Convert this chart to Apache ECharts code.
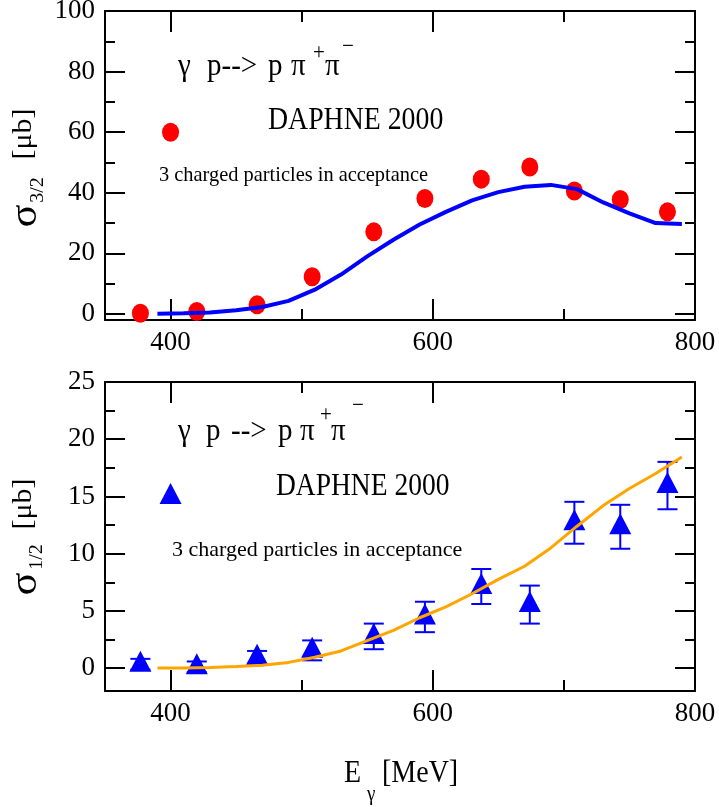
<!DOCTYPE html>
<html><head><meta charset="utf-8">
<script src="https://cdn.jsdelivr.net/npm/echarts@6/dist/echarts.min.js"></script>
<style>html,body{margin:0;padding:0;background:#fff}#c{width:719px;height:807px}</style>
</head><body><div id="c"></div>
<script>
// ---- data ----
const energy = [377, 420, 466, 508, 555, 594, 637, 674, 708, 743, 779];
const sigma32 = [0.2, 0.8, 3.0, 12.3, 27.1, 38.1, 44.5, 48.5, 40.6, 37.8, 33.7];
const theoryE = [390, 410, 430, 450, 470, 490, 510, 530, 550, 570, 590, 610, 630, 650, 670, 690, 710, 730, 750, 770, 790];
const theory32 = [0.1, 0.2, 0.5, 1.2, 2.3, 4.3, 8.0, 13.0, 19.0, 24.5, 29.5, 33.7, 37.5, 40.2, 42.0, 42.6, 41.2, 36.8, 33.2, 30.0, 29.7];
const sigma12 = [0.34, 0.11, 0.95, 1.55, 2.77, 4.47, 7.13, 5.55, 12.7, 12.35, 15.95];
const sigma12Err = [0.47, 0.47, 0.55, 0.87, 1.12, 1.33, 1.53, 1.66, 1.83, 1.92, 2.07];
const theory12 = [0.0, 0.02, 0.06, 0.14, 0.25, 0.5, 0.95, 1.5, 2.4, 3.3, 4.4, 5.35, 6.5, 7.75, 8.9, 10.5, 12.4, 14.2, 15.7, 17.0, 18.45];
const legendTop = [[400, 60]];
const legendBot = [[400, 15]];
const xMajor = [400, 600, 800];
const xMinor = [500, 700];
const yTopMajor = [0, 20, 40, 60, 80, 100];
const yTopMinor = [10, 30, 50, 70, 90];
const yBotMajor = [0, 5, 10, 15, 20, 25];
const yBotMinor = [2.5, 7.5, 12.5, 17.5, 22.5];

const SERIF = 'Liberation Serif';
const BLK = '#000';

function xAx(grid, pos, ticks, len, labels, line) {
  return {
    type: 'value', gridIndex: grid, position: pos, min: 350, max: 800,
    axisLine: {show: line, onZero: false, lineStyle: {color: BLK, width: 2}},
    axisTick: {show: true, inside: true, length: len, customValues: ticks, lineStyle: {color: BLK, width: 2}},
    axisLabel: labels ? {show: true, customValues: labels, margin: 9, fontSize: 27, fontFamily: SERIF, color: BLK} : {show: false},
    splitLine: {show: false}
  };
}
function yAx(grid, pos, min, max, ticks, len, labels, line) {
  return {
    type: 'value', gridIndex: grid, position: pos, min: min, max: max,
    axisLine: {show: line, onZero: false, lineStyle: {color: BLK, width: 2}},
    axisTick: {show: true, inside: true, length: len, customValues: ticks, lineStyle: {color: BLK, width: 2}},
    axisLabel: labels ? {show: true, customValues: labels, margin: 10, fontSize: 27, fontFamily: SERIF, color: BLK} : {show: false},
    splitLine: {show: false}
  };
}

const xAxes = [
  xAx(0, 'bottom', xMajor, 21, xMajor, true),
  xAx(0, 'bottom', xMinor, 11, null, false),
  xAx(0, 'top', xMajor, 21, null, true),
  xAx(0, 'top', xMinor, 11, null, false),
  xAx(1, 'bottom', xMajor, 21, xMajor, true),
  xAx(1, 'bottom', xMinor, 11, null, false),
  xAx(1, 'top', xMajor, 21, null, true),
  xAx(1, 'top', xMinor, 11, null, false)
];
const yAxes = [
  yAx(0, 'left', -2, 100, yTopMajor, 20, yTopMajor, true),
  yAx(0, 'left', -2, 100, yTopMinor, 10, null, false),
  yAx(0, 'right', -2, 100, yTopMajor, 20, null, true),
  yAx(0, 'right', -2, 100, yTopMinor, 10, null, false),
  yAx(1, 'left', -2, 25, yBotMajor, 20, yBotMajor, true),
  yAx(1, 'left', -2, 25, yBotMinor, 10, null, false),
  yAx(1, 'right', -2, 25, yBotMajor, 20, null, true),
  yAx(1, 'right', -2, 25, yBotMinor, 10, null, false)
];

function txt(x, y, s, size, opts) {
  opts = opts || {};
  return {
    type: 'text', x: x, y: y, rotation: opts.rot || 0,
    scaleX: opts.sx || 1, scaleY: opts.sy || 1, z: 100,
    style: {text: s, fontSize: size, fontFamily: SERIF, fill: BLK,
      align: opts.align || 'left', verticalAlign: 'middle'}
  };
}
const SY = 1.11;
const graphics = [
  // top formula
  txt(178, 67, 'γ', 29, {sy: SY}),
  txt(207, 67, 'p-->', 29, {sy: SY}),
  txt(268, 67, 'p', 29, {sy: SY}),
  txt(291, 67, 'π', 29, {sy: SY}),
  txt(313, 53, '+', 21, {sy: SY}),
  txt(325, 67, 'π', 29, {sy: SY}),
  txt(342, 47, '−', 21, {sy: SY}),
  txt(268, 121, 'DAPHNE 2000', 27.8, {sy: SY}),
  txt(159, 176, '3 charged particles in acceptance', 20.4, {sy: 1}),
  // bottom formula
  txt(178, 432, 'γ', 29, {sy: SY}),
  txt(206, 432, 'p', 29, {sy: SY}),
  txt(231, 432, '-->', 29, {sy: SY}),
  txt(278, 432, 'p', 29, {sy: SY}),
  txt(300, 432, 'π', 29, {sy: SY}),
  txt(320, 415, '+', 21, {sy: SY}),
  txt(331, 432, 'π', 29, {sy: SY}),
  txt(352, 406, '−', 21, {sy: SY}),
  txt(276, 487, 'DAPHNE 2000', 27.5, {sy: SY}),
  txt(172, 550, '3 charged particles in acceptance', 22, {sy: 1}),
  // y titles
  txt(26, 216, 'σ', 38, {rot: Math.PI / 2, sx: SY, align: 'center'}),
  txt(38, 190, '3/2', 18, {rot: Math.PI / 2, sx: SY, align: 'center'}),
  txt(24, 134, '[μb]', 27, {rot: Math.PI / 2, sx: SY, align: 'center'}),
  txt(26, 584, 'σ', 38, {rot: Math.PI / 2, sx: SY, align: 'center'}),
  txt(37, 557, '1/2', 18, {rot: Math.PI / 2, sx: SY, align: 'center'}),
  txt(24, 504, '[μb]', 27, {rot: Math.PI / 2, sx: SY, align: 'center'}),
  // x title
  txt(344, 774, 'E', 28, {sy: SY}),
  txt(367, 794, 'γ', 19, {sy: SY}),
  txt(382, 774, '[MeV]', 28, {sy: SY})
];

const chart = echarts.init(document.getElementById('c'), null, {renderer: 'canvas'});
chart.setOption({
  backgroundColor: '#fff',
  animation: false,
  textStyle: {fontFamily: SERIF},
  grid: [
    {left: 105, top: 11, width: 590, height: 309, containLabel: false, outerBoundsMode: 'none'},
    {left: 105, top: 382, width: 590, height: 309, containLabel: false, outerBoundsMode: 'none'}
  ],
  xAxis: xAxes,
  yAxis: yAxes,
  graphic: graphics,
  series: [
    {type: 'scatter', xAxisIndex: 0, yAxisIndex: 0, symbol: 'circle', symbolSize: [17, 19],
      itemStyle: {color: '#ff0000', opacity: 1}, z: 2, data: energy.map((e, i) => [e, sigma32[i]])},
    {type: 'scatter', xAxisIndex: 0, yAxisIndex: 0, symbol: 'circle', symbolSize: [17, 19],
      itemStyle: {color: '#ff0000', opacity: 1}, z: 2, data: legendTop},
    {type: 'line', xAxisIndex: 0, yAxisIndex: 0, showSymbol: false, symbol: 'none',
      lineStyle: {color: '#0000ff', width: 4}, z: 3, data: theoryE.map((e, i) => [e, theory32[i]])},
    {type: 'custom', xAxisIndex: 4, yAxisIndex: 4, z: 2,
      encode: {x: 0, y: 1},
      renderItem: function (params, api) {
        const x = api.value(0), y = api.value(1), er = api.value(2);
        const t = api.coord([x, y + er]);
        const b = api.coord([x, y - er]);
        const hw = 10;
        const st = {stroke: '#0000ff', lineWidth: 2};
        return {type: 'group', children: [
          {type: 'line', shape: {x1: t[0], y1: t[1], x2: b[0], y2: b[1]}, style: st},
          {type: 'line', shape: {x1: t[0] - hw, y1: t[1], x2: t[0] + hw, y2: t[1]}, style: st},
          {type: 'line', shape: {x1: b[0] - hw, y1: b[1], x2: b[0] + hw, y2: b[1]}, style: st}
        ]};
      },
      data: energy.map((e, i) => [e, sigma12[i], sigma12Err[i]])},
    {type: 'scatter', xAxisIndex: 4, yAxisIndex: 4, symbol: 'triangle', symbolSize: [22, 21], symbolOffset: [0, -3],
      itemStyle: {color: '#0000ff', opacity: 1}, z: 2, data: energy.map((e, i) => [e, sigma12[i]])},
    {type: 'scatter', xAxisIndex: 4, yAxisIndex: 4, symbol: 'triangle', symbolSize: [22, 21], symbolOffset: [0, -3],
      itemStyle: {color: '#0000ff', opacity: 1}, z: 2, data: legendBot},
    {type: 'line', xAxisIndex: 4, yAxisIndex: 4, showSymbol: false, symbol: 'none',
      lineStyle: {color: '#ffa500', width: 3}, z: 3, data: theoryE.map((e, i) => [e, theory12[i]])}
  ]
});
</script></body></html>
